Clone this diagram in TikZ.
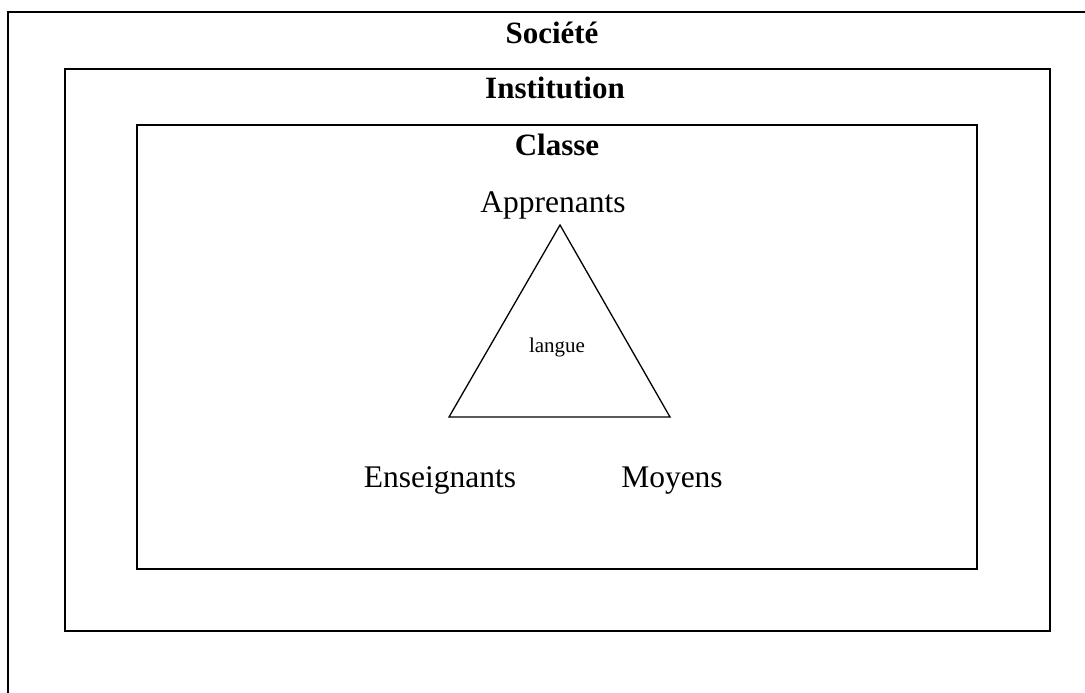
\documentclass[tikz,border=0pt]{standalone}
\usepackage{fontspec}
\setmainfont{Liberation Serif}
\begin{document}
\begin{tikzpicture}[x=1pt,y=-1pt,
  frame/.style={line width=2.4pt},
  title/.style={font=\fontsize{31}{36}\selectfont\bfseries, inner sep=0pt, anchor=base},
  role/.style={font=\fontsize{31.5}{36}\selectfont, inner sep=0pt, anchor=base},
  small/.style={font=\fontsize{21}{25}\selectfont, inner sep=0pt, anchor=base}]
\useasboundingbox (0,0) rectangle (1085,693);
% Societe frame (left and top edges visible)
\draw[frame] (8,700) -- (8,12) -- (1090,12);
% Institution frame
\draw[frame] (65,69) rectangle (1050,631);
% Classe frame
\draw[frame] (137,125) rectangle (977,569);
% titles
\node[title] (soc) at (552,44) {Société};
\node[title] (inst) at (555,99) {Institution};
\node[title] (cls) at (557,155) {Classe};
% triangle
\coordinate (ta) at (560,225);
\coordinate (tl) at (449,417);
\coordinate (tr) at (670,417);
\draw[line width=1.3pt, line join=miter] (ta) -- (tl) -- (tr) -- cycle;
\node[small] (lang) at (557,352) {langue};
\node[role] (app) at (553,212) {Apprenants};
\node[role] (ens) at (440,487) {Enseignants};
\node[role] (moy) at (672,487) {Moyens};
\end{tikzpicture}
\end{document}
